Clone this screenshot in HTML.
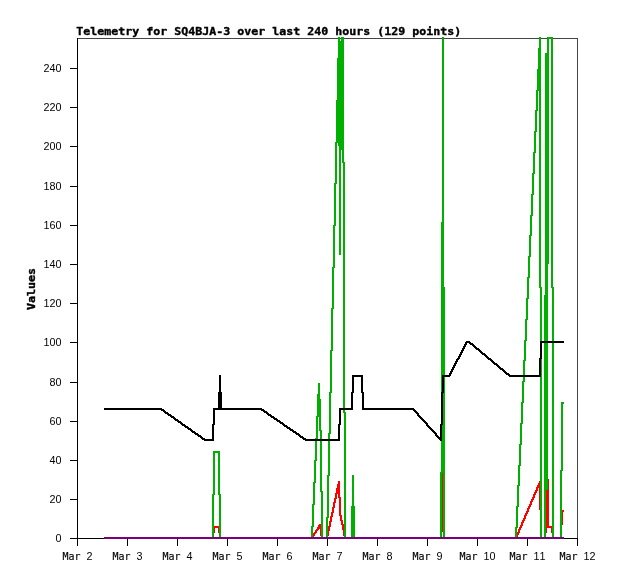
<!DOCTYPE html>
<html lang="en"><head><meta charset="utf-8"><title>Telemetry for SQ4BJA-3</title>
<style>html,body{margin:0;padding:0;background:#fff}svg{display:block;will-change:transform}text{font-family:"DejaVu Sans Mono","Liberation Mono",monospace;fill:#000;stroke:#000;stroke-width:0.15px}text.t{font-weight:bold;stroke-width:0.4px}text.d{stroke-width:0;font-family:"Liberation Sans","DejaVu Sans",sans-serif}</style></head><body>
<svg width="618" height="579" viewBox="0 0 618 579">
<rect width="618" height="579" fill="#fff"/>
<g fill="#000" shape-rendering="crispEdges"><rect x="77" y="38" width="501" height="1" fill="#444"/><rect x="577" y="38" width="1" height="501" fill="#444"/><rect x="77" y="538" width="501" height="1"/><rect x="77" y="38" width="1" height="501"/><rect x="77" y="538" width="1" height="8"/><rect x="127" y="538" width="1" height="8"/><rect x="177" y="538" width="1" height="8"/><rect x="227" y="538" width="1" height="8"/><rect x="277" y="538" width="1" height="8"/><rect x="327" y="538" width="1" height="8"/><rect x="377" y="538" width="1" height="8"/><rect x="427" y="538" width="1" height="8"/><rect x="477" y="538" width="1" height="8"/><rect x="527" y="538" width="1" height="8"/><rect x="577" y="538" width="1" height="8"/><rect x="70" y="538" width="8" height="1"/><rect x="70" y="499" width="8" height="1"/><rect x="70" y="460" width="8" height="1"/><rect x="70" y="421" width="8" height="1"/><rect x="70" y="382" width="8" height="1"/><rect x="70" y="342" width="8" height="1"/><rect x="70" y="303" width="8" height="1"/><rect x="70" y="264" width="8" height="1"/><rect x="70" y="225" width="8" height="1"/><rect x="70" y="186" width="8" height="1"/><rect x="70" y="146" width="8" height="1"/><rect x="70" y="107" width="8" height="1"/><rect x="70" y="68" width="8" height="1"/></g>
<g shape-rendering="crispEdges">
<path fill="#ff0000" d="M339 481h1v35h-1zM104 537h108v2h-108zM221 537h91v2h-91zM323 537h3v2h-3zM346 537h94v2h-94zM445 537h70v2h-70zM542 537h2v2h-2zM554 537h6v2h-6zM318 525h1v5h-1zM520 525h1v5h-1zM547 479h2v49h-2zM540 481h1v58h-1zM331 512h1v10h-1zM342 520h1v10h-1zM338 481h1v17h-1zM212 532h1v7h-1zM220 532h1v7h-1zM544 532h1v7h-1zM553 532h1v7h-1zM441 473h1v66h-1zM443 473h1v66h-1zM516 534h1v5h-1zM528 506h1v6h-1zM444 505h1v34h-1zM442 473h1v59h-1zM539 481h1v29h-1zM524 515h1v6h-1zM335 493h1v10h-1zM536 487h1v6h-1zM341 515h1v10h-1zM561 510h1v29h-1zM562 510h1v15h-1zM314 532h1v4h-1zM327 530h1v9h-1zM440 530h1v9h-1zM213 526h1v13h-1zM219 526h1v13h-1zM552 526h1v13h-1zM330 516h1v11h-1zM546 479h1v54h-1zM333 502h1v11h-1zM334 498h1v10h-1zM535 490h1v5h-1zM523 518h1v5h-1zM340 497h1v24h-1zM531 499h1v6h-1zM344 529h1v10h-1zM545 503h1v36h-1zM337 484h1v10h-1zM329 521h1v10h-1zM215 526h3v2h-3zM549 526h2v2h-2zM541 509h1v30h-1zM332 507h1v10h-1zM321 528h1v11h-1zM313 533h1v5h-1zM518 529h1v6h-1zM530 501h1v6h-1zM560 524h1v15h-1zM320 524h1v12h-1zM343 524h1v12h-1zM214 526h1v7h-1zM218 526h1v7h-1zM551 526h1v7h-1zM336 488h1v11h-1zM538 483h1v5h-1zM328 526h1v10h-1zM312 535h1v4h-1zM322 535h1v4h-1zM326 535h1v4h-1zM345 535h1v4h-1zM517 532h1v5h-1zM537 485h1v6h-1zM319 524h1v5h-1zM519 527h1v6h-1zM527 508h1v6h-1zM317 527h1v4h-1zM526 511h1v5h-1zM534 492h1v6h-1zM525 513h1v6h-1zM533 494h1v6h-1zM532 497h1v5h-1zM515 536h1v3h-1zM522 520h1v6h-1zM529 504h1v5h-1zM521 522h1v6h-1zM315 530h1v4h-1zM563 510h1v2h-1zM316 529h1v4h-1z"/>
<path fill="#00b000" d="M519 444h1v42h-1zM560 470h1v69h-1zM338 37h1v109h-1zM546 53h1v437h-1zM539 37h1v251h-1zM551 37h1v251h-1zM442 37h1v436h-1zM443 37h1v502h-1zM540 37h1v502h-1zM552 37h1v502h-1zM214 451h1v44h-1zM218 451h1v44h-1zM548 37h1v227h-1zM444 287h1v252h-1zM541 287h1v252h-1zM553 287h1v252h-1zM335 142h1v84h-1zM329 392h1v84h-1zM544 295h1v244h-1zM213 451h1v88h-1zM219 451h1v88h-1zM342 37h1v126h-1zM340 41h1v214h-1zM532 173h1v43h-1zM344 162h1v377h-1zM327 475h1v64h-1zM352 475h2v64h-2zM321 430h1v109h-1zM333 225h1v84h-1zM536 90h1v42h-1zM527 277h1v43h-1zM345 412h1v127h-1zM331 308h1v85h-1zM330 350h1v84h-1zM212 494h1v45h-1zM220 494h1v45h-1zM351 506h1v33h-1zM354 506h1v33h-1zM516 506h1v33h-1zM440 472h1v67h-1zM525 319h1v42h-1zM328 433h1v85h-1zM339 37h1v218h-1zM545 53h1v486h-1zM441 222h1v317h-1zM104 537h108v2h-108zM221 537h90v2h-90zM323 537h3v2h-3zM346 537h5v2h-5zM355 537h85v2h-85zM445 537h70v2h-70zM542 537h2v2h-2zM554 537h6v2h-6zM547 37h1v453h-1zM343 37h1v376h-1zM334 183h1v85h-1zM341 37h1v113h-1zM332 267h1v84h-1zM318 383h1v34h-1zM326 517h1v22h-1zM533 152h1v43h-1zM524 340h1v42h-1zM314 460h1v45h-1zM320 399h1v93h-1zM535 110h1v43h-1zM526 298h1v43h-1zM336 100h1v84h-1zM530 215h1v42h-1zM521 402h1v43h-1zM534 131h1v43h-1zM561 402h1v137h-1zM337 58h1v85h-1zM322 491h1v48h-1zM315 438h1v45h-1zM531 194h1v42h-1zM522 381h1v43h-1zM562 402h1v69h-1zM317 394h1v45h-1zM518 465h1v42h-1zM312 504h1v35h-1zM319 383h1v48h-1zM316 416h1v45h-1zM537 69h1v42h-1zM528 256h1v43h-1zM313 482h1v45h-1zM523 360h1v43h-1zM515 527h1v12h-1zM538 48h1v43h-1zM517 485h1v43h-1zM529 235h1v43h-1zM520 423h1v43h-1zM215 451h3v2h-3zM311 526h1v13h-1zM563 402h1v2h-1zM549 37h2v2h-2z"/>
<path fill="#000000" d="M177 419h1v3h-1zM277 419h1v3h-1zM423 419h1v3h-1zM178 420h1v3h-1zM279 420h1v3h-1zM424 420h1v3h-1zM197 433h1v3h-1zM298 433h1v3h-1zM170 414h1v3h-1zM270 414h1v3h-1zM205 439h7v2h-7zM306 439h32v2h-32zM189 428h1v2h-1zM467 341h2v2h-2zM542 341h22v2h-22zM509 374h1v3h-1zM171 415h1v3h-1zM271 415h1v3h-1zM419 415h1v3h-1zM540 341h1v36h-1zM498 365h1v3h-1zM417 412h1v4h-1zM464 344h1v5h-1zM219 375h2v35h-2zM352 375h1v35h-1zM362 375h1v35h-1zM452 367h1v5h-1zM539 358h1v19h-1zM202 437h1v3h-1zM303 437h1v3h-1zM439 437h1v3h-1zM418 413h1v4h-1zM104 408h57v2h-57zM215 408h3v2h-3zM222 408h39v2h-39zM341 408h10v2h-10zM364 408h49v2h-49zM441 392h1v49h-1zM465 342h1v5h-1zM212 424h1v17h-1zM338 424h1v17h-1zM440 424h1v17h-1zM541 341h1v18h-1zM460 352h1v5h-1zM180 421h1v3h-1zM280 421h1v3h-1zM425 421h1v3h-1zM198 434h1v3h-1zM299 434h1v3h-1zM354 375h7v2h-7zM444 375h5v2h-5zM510 375h29v2h-29zM161 408h1v3h-1zM261 408h1v3h-1zM413 408h1v3h-1zM214 408h1v17h-1zM340 408h1v17h-1zM192 430h1v3h-1zM293 430h1v3h-1zM433 430h1v3h-1zM184 424h1v3h-1zM284 424h1v3h-1zM203 438h1v2h-1zM304 438h1v2h-1zM173 416h1v3h-1zM273 416h1v3h-1zM420 416h1v3h-1zM353 375h1v18h-1zM361 375h1v18h-1zM443 375h1v18h-1zM456 359h1v5h-1zM165 411h1v3h-1zM266 411h1v3h-1zM416 411h1v3h-1zM174 417h1v3h-1zM274 417h1v3h-1zM421 417h1v3h-1zM166 412h1v2h-1zM185 425h1v3h-1zM286 425h1v3h-1zM428 425h1v3h-1zM505 371h1v3h-1zM442 375h1v50h-1zM275 418h1v2h-1zM193 431h1v2h-1zM294 431h1v2h-1zM167 412h1v3h-1zM267 412h1v3h-1zM459 354h1v5h-1zM175 418h1v3h-1zM276 418h1v3h-1zM422 418h1v3h-1zM187 426h1v3h-1zM287 426h1v3h-1zM429 426h1v3h-1zM213 408h1v33h-1zM339 408h1v33h-1zM168 413h1v3h-1zM268 413h1v3h-1zM188 427h1v3h-1zM289 427h1v3h-1zM430 427h1v3h-1zM199 435h1v2h-1zM455 361h1v5h-1zM508 373h1v3h-1zM500 367h1v3h-1zM162 409h1v2h-1zM262 409h1v2h-1zM218 392h1v18h-1zM221 392h1v18h-1zM351 392h1v18h-1zM363 392h1v18h-1zM451 369h1v5h-1zM200 435h1v3h-1zM300 435h1v3h-1zM437 435h1v3h-1zM281 422h1v2h-1zM190 428h1v3h-1zM290 428h1v3h-1zM431 428h1v3h-1zM163 409h1v3h-1zM263 409h1v3h-1zM414 409h1v3h-1zM181 422h1v3h-1zM282 422h1v3h-1zM164 410h1v3h-1zM264 410h1v3h-1zM415 410h1v3h-1zM194 431h1v3h-1zM295 431h1v3h-1zM434 431h1v3h-1zM176 419h1v2h-1zM454 363h1v5h-1zM426 422h1v4h-1zM450 371h1v5h-1zM463 346h1v5h-1zM195 432h1v3h-1zM296 432h1v3h-1zM278 420h1v2h-1zM182 423h1v3h-1zM283 423h1v3h-1zM473 344h1v3h-1zM449 373h1v4h-1zM291 429h1v2h-1zM191 429h1v3h-1zM292 429h1v3h-1zM432 429h1v3h-1zM204 438h1v3h-1zM305 438h1v3h-1zM186 426h1v2h-1zM480 350h1v3h-1zM469 341h1v3h-1zM501 368h1v2h-1zM475 346h1v3h-1zM301 436h1v2h-1zM201 436h1v3h-1zM302 436h1v3h-1zM438 436h1v3h-1zM169 414h1v2h-1zM269 414h1v2h-1zM471 343h1v2h-1zM196 433h1v2h-1zM297 433h1v2h-1zM183 424h1v2h-1zM485 354h1v3h-1zM503 369h1v3h-1zM285 425h1v2h-1zM476 347h1v3h-1zM487 356h1v3h-1zM472 343h1v3h-1zM483 353h1v2h-1zM478 348h1v3h-1zM427 423h1v4h-1zM474 345h1v3h-1zM466 341h1v4h-1zM462 348h1v5h-1zM458 356h1v4h-1zM461 350h1v5h-1zM457 358h1v4h-1zM484 353h1v3h-1zM453 365h1v5h-1zM435 432h1v4h-1zM479 349h1v3h-1zM490 358h1v3h-1zM497 364h1v3h-1zM486 355h1v3h-1zM492 360h1v3h-1zM470 342h1v3h-1zM481 351h1v3h-1zM488 357h1v3h-1zM499 366h1v3h-1zM477 348h1v2h-1zM494 362h1v3h-1zM493 361h1v3h-1zM504 370h1v3h-1zM489 358h1v2h-1zM495 363h1v2h-1zM506 372h1v3h-1zM436 433h1v4h-1zM491 359h1v3h-1zM502 368h1v3h-1zM482 352h1v3h-1zM179 421h1v2h-1zM496 363h1v3h-1zM288 427h1v2h-1zM172 416h1v2h-1zM272 416h1v2h-1zM507 373h1v2h-1zM265 411h1v2h-1z"/>
<path fill="#7a007a" d="M104 537h460v2h-460z"/>
</g>
<text x="62.5" y="560" font-size="9.97" textLength="18" lengthAdjust="spacing" xml:space="preserve">Mar</text><text x="86.5" y="560" font-size="10.79" class="d" textLength="6" lengthAdjust="spacing">2</text>
<text x="112.5" y="560" font-size="9.97" textLength="18" lengthAdjust="spacing" xml:space="preserve">Mar</text><text x="136.5" y="560" font-size="10.79" class="d" textLength="6" lengthAdjust="spacing">3</text>
<text x="162.5" y="560" font-size="9.97" textLength="18" lengthAdjust="spacing" xml:space="preserve">Mar</text><text x="186.5" y="560" font-size="10.79" class="d" textLength="6" lengthAdjust="spacing">4</text>
<text x="212.5" y="560" font-size="9.97" textLength="18" lengthAdjust="spacing" xml:space="preserve">Mar</text><text x="236.5" y="560" font-size="10.79" class="d" textLength="6" lengthAdjust="spacing">5</text>
<text x="262.5" y="560" font-size="9.97" textLength="18" lengthAdjust="spacing" xml:space="preserve">Mar</text><text x="286.5" y="560" font-size="10.79" class="d" textLength="6" lengthAdjust="spacing">6</text>
<text x="312.5" y="560" font-size="9.97" textLength="18" lengthAdjust="spacing" xml:space="preserve">Mar</text><text x="336.5" y="560" font-size="10.79" class="d" textLength="6" lengthAdjust="spacing">7</text>
<text x="362.5" y="560" font-size="9.97" textLength="18" lengthAdjust="spacing" xml:space="preserve">Mar</text><text x="386.5" y="560" font-size="10.79" class="d" textLength="6" lengthAdjust="spacing">8</text>
<text x="412.5" y="560" font-size="9.97" textLength="18" lengthAdjust="spacing" xml:space="preserve">Mar</text><text x="436.5" y="560" font-size="10.79" class="d" textLength="6" lengthAdjust="spacing">9</text>
<text x="459.5" y="560" font-size="9.97" textLength="18" lengthAdjust="spacing" xml:space="preserve">Mar</text><text x="483.5" y="560" font-size="10.79" class="d" textLength="12" lengthAdjust="spacing">10</text>
<text x="509.5" y="560" font-size="9.97" textLength="18" lengthAdjust="spacing" xml:space="preserve">Mar</text><text x="533.5" y="560" font-size="10.79" class="d" textLength="12" lengthAdjust="spacing">11</text>
<text x="559.5" y="560" font-size="9.97" textLength="18" lengthAdjust="spacing" xml:space="preserve">Mar</text><text x="583.5" y="560" font-size="10.79" class="d" textLength="12" lengthAdjust="spacing">12</text>
<text x="55.4" y="542.1" font-size="10.79" class="d" textLength="6" lengthAdjust="spacing">0</text>
<text x="49.4" y="503.1" font-size="10.79" class="d" textLength="12" lengthAdjust="spacing">20</text>
<text x="49.4" y="464.1" font-size="10.79" class="d" textLength="12" lengthAdjust="spacing">40</text>
<text x="49.4" y="425.1" font-size="10.79" class="d" textLength="12" lengthAdjust="spacing">60</text>
<text x="49.4" y="386.1" font-size="10.79" class="d" textLength="12" lengthAdjust="spacing">80</text>
<text x="43.4" y="346.1" font-size="10.79" class="d" textLength="18" lengthAdjust="spacing">100</text>
<text x="43.4" y="307.1" font-size="10.79" class="d" textLength="18" lengthAdjust="spacing">120</text>
<text x="43.4" y="268.1" font-size="10.79" class="d" textLength="18" lengthAdjust="spacing">140</text>
<text x="43.4" y="229.1" font-size="10.79" class="d" textLength="18" lengthAdjust="spacing">160</text>
<text x="43.4" y="190.1" font-size="10.79" class="d" textLength="18" lengthAdjust="spacing">180</text>
<text x="43.4" y="150.1" font-size="10.79" class="d" textLength="18" lengthAdjust="spacing">200</text>
<text x="43.4" y="111.1" font-size="10.79" class="d" textLength="18" lengthAdjust="spacing">220</text>
<text x="43.4" y="72.1" font-size="10.79" class="d" textLength="18" lengthAdjust="spacing">240</text>
<text transform="translate(76.2 35) scale(1 0.96)" font-size="11.6" class="t" textLength="385" lengthAdjust="spacing">Telemetry for SQ4BJA-3 over last 240 hours (129 points)</text>
<text transform="translate(35 310) rotate(-90) scale(1 0.96)" font-size="11.6" class="t" textLength="42" lengthAdjust="spacing">Values</text>
</svg>
</body></html>
